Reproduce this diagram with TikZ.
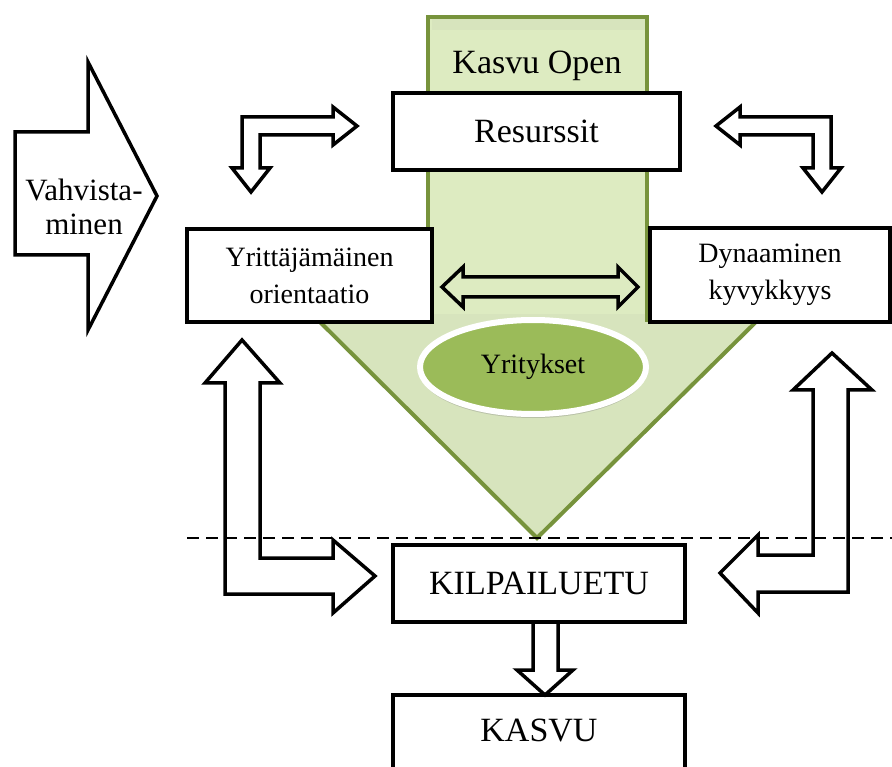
\documentclass[tikz,border=0pt]{standalone}
\usepackage{fontspec}
\setmainfont{Liberation Serif}
\usetikzlibrary{shapes.geometric,shadows}
\definecolor{kgreen}{HTML}{77933C}
\definecolor{colgreen}{HTML}{DDEBC1}
\definecolor{headgreen}{HTML}{D7E4BD}
\definecolor{ovalgreen}{HTML}{9BBB59}
\begin{document}
\begin{tikzpicture}[x=1pt,y=-1pt,
  box/.style={draw=black, line width=3.5pt, fill=white, rectangle, inner sep=0pt, align=center},
  blockarrow/.style={draw=black, line width=3.5pt, line join=miter},
  bigfont/.style={font=\fontsize{34}{40}\selectfont},
  midfont/.style={font=\fontsize{28}{37}\selectfont},
  sepline/.style={draw=black, line width=2.5pt, dash pattern=on 12pt off 7pt}]
\useasboundingbox (0,0) rectangle (892,767);
\clip (0,0) rectangle (892,767);
\fill[white] (0,0) rectangle (892,767);

% big green arrow (Kasvu Open)
\fill[headgreen] (312,314) -- (764,314) -- (537,538) -- cycle;
\fill[colgreen] (428,17) rectangle (647,314);
\fill[headgreen] (432,19) rectangle (645,30);
\draw[kgreen, line width=4pt] (428,322) -- (428,17) -- (647,17) -- (647,322);
\draw[kgreen, line width=4pt, line join=miter] (312,314) -- (537,538) -- (764,314);
\node[bigfont] (kopen) at (537,66) {Kasvu Open};

% oval
\node[ellipse, minimum width=226pt, minimum height=94pt, fill=ovalgreen, draw=white,
      line width=6pt, drop shadow={shadow xshift=0pt, shadow yshift=-4pt, opacity=0.35},
      midfont] (yr) at (533,367) {Yritykset};

% boxes
\node[box, bigfont, minimum width=287pt, minimum height=77pt] (res) at (536.5,131.5) {Resurssit};
\node[box, midfont, minimum width=245pt, minimum height=93pt] (yo) at (309.5,275.5) {Yrittäjämäinen\\orientaatio};
\node[box, midfont, minimum width=240pt, minimum height=94pt] (dk) at (770,275) {Dynaaminen\\kyvykkyys};
\node[box, bigfont, minimum width=292pt, minimum height=77pt] (kil) at (539,583.5) {KILPAILUETU};
\node[box, minimum width=292pt, minimum height=110pt] (kas) at (539,750) {};
\node[bigfont] (kastext) at (539,730) {KASVU};

% Vahvistaminen arrow
\draw[blockarrow] (15,132) -- (88,132) -- (88,62) -- (157,196) -- (88,330) -- (88,255) -- (15,255) -- cycle;
\node[font=\fontsize{31}{34}\selectfont, align=center] (vah) at (84,207) {Vahvista-\\minen};

% top-left bent double arrow
\draw[blockarrow] (357,126) -- (333,107) -- (333,117) -- (242,117) -- (242,168) -- (232,168)
  -- (251,192) -- (270,168) -- (260,168) -- (260,135) -- (333,135) -- (333,145) -- cycle;
% top-right bent double arrow
\draw[blockarrow] (716,126) -- (740,107) -- (740,117) -- (831,117) -- (831,168) -- (841,168)
  -- (822,192) -- (803,168) -- (813,168) -- (813,135) -- (740,135) -- (740,145) -- cycle;
% middle double arrow
\draw[blockarrow] (442,287) -- (463,267) -- (463,277) -- (618,277) -- (618,267) -- (638,287)
  -- (618,307) -- (618,297) -- (463,297) -- (463,307) -- cycle;
% bottom-left L arrow
\draw[blockarrow] (242,340) -- (280,383) -- (260,383) -- (260,558) -- (333,558) -- (333,540)
  -- (375,576) -- (333,613) -- (333,594) -- (225,594) -- (225,383) -- (205,383) -- cycle;
% bottom-right L arrow
\draw[blockarrow] (832,353) -- (872,390) -- (848,390) -- (848,592) -- (758,592) -- (758,613)
  -- (720,573) -- (758,535) -- (758,555) -- (813,555) -- (813,390) -- (793,390) -- cycle;
% KILPAILUETU -> KASVU
\draw[blockarrow] (533,622) -- (533,670) -- (517,670) -- (545,695) -- (573,670) -- (558,670) -- (558,622);

% dashed separator
\coordinate (dl) at (187,538);
\coordinate (dr) at (892,538);
\draw[sepline] (dl) -- (dr);
\end{tikzpicture}
\end{document}
